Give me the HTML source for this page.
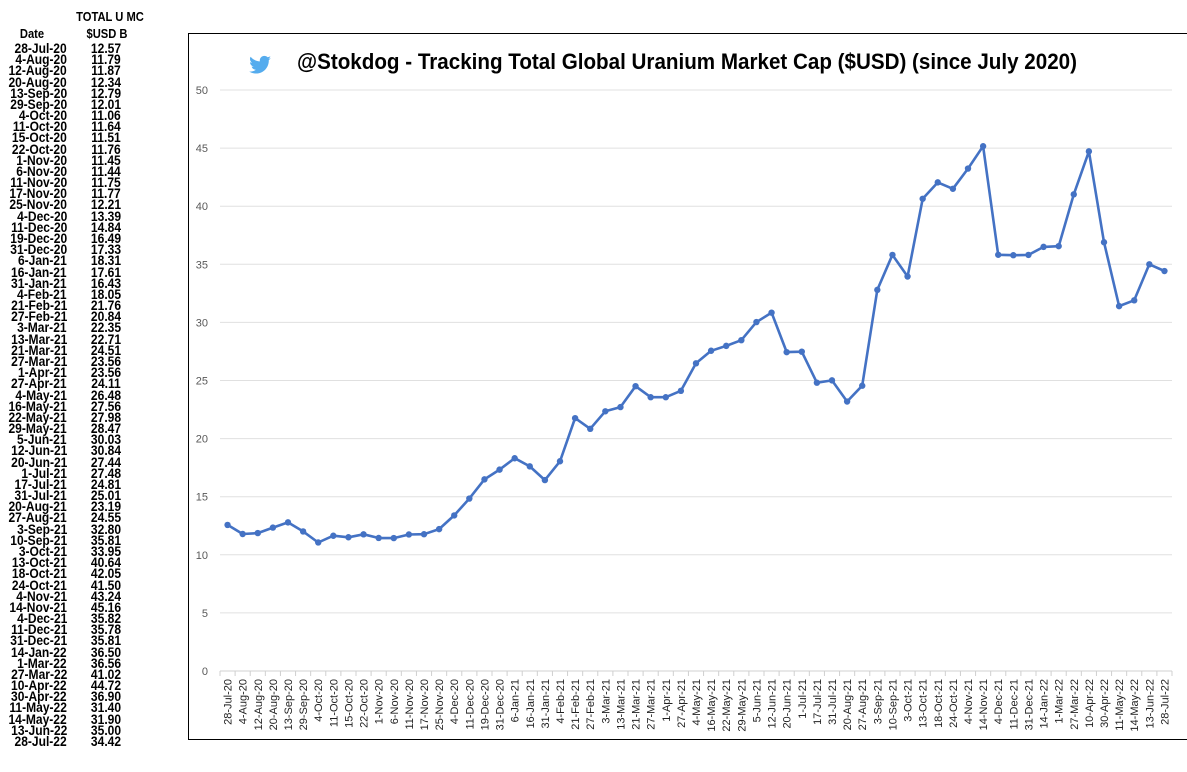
<!DOCTYPE html>
<html><head><meta charset="utf-8"><style>
body{margin:0;width:1187px;height:772px;background:#fff;overflow:hidden;position:relative;font-family:"Liberation Sans",sans-serif}
#tbl{position:absolute;left:0;top:0;width:180px;height:772px}
.t{position:absolute;font-weight:bold;font-size:14px;color:#000;white-space:nowrap;transform-origin:center;line-height:12px}
#box{position:absolute;left:188px;top:33px;width:1005px;height:707px;border:1px solid #000;box-sizing:border-box}
svg{position:absolute;left:0;top:0}
</style></head><body>
<div id="tbl"></div>
<div id="box"></div>
<svg id="chart" width="1187" height="772"></svg>
<script>
const dates=["28-Jul-20","4-Aug-20","12-Aug-20","20-Aug-20","13-Sep-20","29-Sep-20","4-Oct-20","11-Oct-20","15-Oct-20","22-Oct-20","1-Nov-20","6-Nov-20","11-Nov-20","17-Nov-20","25-Nov-20","4-Dec-20","11-Dec-20","19-Dec-20","31-Dec-20","6-Jan-21","16-Jan-21","31-Jan-21","4-Feb-21","21-Feb-21","27-Feb-21","3-Mar-21","13-Mar-21","21-Mar-21","27-Mar-21","1-Apr-21","27-Apr-21","4-May-21","16-May-21","22-May-21","29-May-21","5-Jun-21","12-Jun-21","20-Jun-21","1-Jul-21","17-Jul-21","31-Jul-21","20-Aug-21","27-Aug-21","3-Sep-21","10-Sep-21","3-Oct-21","13-Oct-21","18-Oct-21","24-Oct-21","4-Nov-21","14-Nov-21","4-Dec-21","11-Dec-21","31-Dec-21","14-Jan-22","1-Mar-22","27-Mar-22","10-Apr-22","30-Apr-22","11-May-22","14-May-22","13-Jun-22","28-Jul-22"];
const values=[12.57,11.79,11.87,12.34,12.79,12.01,11.06,11.64,11.51,11.76,11.45,11.44,11.75,11.77,12.21,13.39,14.84,16.49,17.33,18.31,17.61,16.43,18.05,21.76,20.84,22.35,22.71,24.51,23.56,23.56,24.11,26.48,27.56,27.98,28.47,30.03,30.84,27.44,27.48,24.81,25.01,23.19,24.55,32.80,35.81,33.95,40.64,42.05,41.50,43.24,45.16,35.82,35.78,35.81,36.50,36.56,41.02,44.72,36.90,31.40,31.90,35.00,34.42];
const yTicks=[0,5,10,15,20,25,30,35,40,45,50];
const NS="http://www.w3.org/2000/svg";
const svg=document.getElementById('chart');
const x0=220,x1=1172,y0=671,y50=90;
const bw=(x1-x0)/dates.length;
const xs=i=>x0+bw*(i+0.5);
const ys=v=>y0-(v/50)*(y0-y50);
function el(t,a,p){const e=document.createElementNS(NS,t);for(const k in a)e.setAttribute(k,a[k]);(p||svg).appendChild(e);return e;}
const tbl=document.getElementById('tbl');
function cell(txt,cx,cy,align){const d=document.createElement('div');d.className='t';d.textContent=txt;
d.style.top=(cy-6)+'px';
if(align==='r'){d.style.right=(180-cx)+'px';d.style.transformOrigin='right center';d.style.transform='scaleX(0.86)';}
else{d.style.left=cx+'px';d.style.transform='translateX(-50%) scaleX(0.86)';}
tbl.appendChild(d);return d;}
let h=cell('TOTAL U MC',110,17,'c');h.style.fontSize='13px';
h=cell('Date',32,34,'c');h.style.fontSize='13px';
h=cell('$USD B',107,34,'c');h.style.fontSize='13px';
const rs=(741-48)/62;
dates.forEach((d,i)=>{const cy=48+i*rs;
const a=cell(d,67,cy,'r');
const b=cell(values[i].toFixed(2),106,cy,'c');});
yTicks.forEach(t=>{const y=ys(t);
const g=el('line',{x1:x0,x2:x1,y1:y,y2:y,stroke:t===0?'#d0d0d0':'#e0e0e0','stroke-width':1});

const l=el('text',{x:208,y:y+4,'text-anchor':'end','font-size':11,fill:'#595959','font-family':'Liberation Sans, sans-serif'});l.textContent=t;
});
for(let i=0;i<=dates.length;i++){const x=x0+bw*i;const tk=el('line',{x1:x,x2:x,y1:y0,y2:y0+5,stroke:'#d0d0d0'});}
dates.forEach((d,i)=>{const x=xs(i)+4;const t=el('text',{x:x,y:y0+8,transform:`rotate(-90 ${x} ${y0+8})`,'text-anchor':'end','font-size':11,fill:'#222','font-family':'Liberation Sans, sans-serif'});t.textContent=d;
});
const pts=values.map((v,i)=>xs(i).toFixed(1)+','+ys(v).toFixed(1)).join(' ');
const pl=el('polyline',{points:pts,fill:'none',stroke:'#4472c4','stroke-width':2.6,'stroke-linejoin':'round'});

values.forEach((v,i)=>{const c=el('circle',{cx:xs(i),cy:ys(v),r:3.2,fill:'#4472c4'});});
const tt=el('text',{x:687,y:69,'text-anchor':'middle','font-size':22,'font-weight':'bold',fill:'#000','font-family':'Liberation Sans, sans-serif',textLength:780,lengthAdjust:'spacingAndGlyphs'});
tt.textContent='@Stokdog - Tracking Total Global Uranium Market Cap ($USD) (since July 2020)';

const bird=el('path',{d:'M271,58 c-0.8,0.4 -1.7,0.6 -2.6,0.7 c0.9,-0.6 1.6,-1.4 2,-2.5 c-0.9,0.5 -1.8,0.9 -2.8,1.1 c-0.8,-0.9 -2,-1.4 -3.3,-1.4 c-2.5,0 -4.5,2 -4.5,4.5 c0,0.4 0,0.7 0.1,1 c-3.7,-0.2 -7,-2 -9.3,-4.7 c-0.4,0.7 -0.6,1.4 -0.6,2.3 c0,1.6 0.8,2.900 2,3.7 c-0.7,0 -1.4,-0.2 -2,-0.6 c0,2.2 1.6,4 3.6,4.4 c-0.7,0.2 -1.4,0.2 -2,0.1 c0.6,1.8 2.2,3.1 4.2,3.1 c-1.5,1.2 -3.5,1.9 -5.6,1.9 c-0.4,0 -0.7,0 -1.1,-0.1 c2,1.3 4.4,2 6.9,2 c8.3,0 12.8,-6.9 12.8,-12.8 l0,-0.6 c0.9,-0.6 1.6,-1.4 2.2,-2.3z',fill:'#55acee'});

</script>
</body></html>
